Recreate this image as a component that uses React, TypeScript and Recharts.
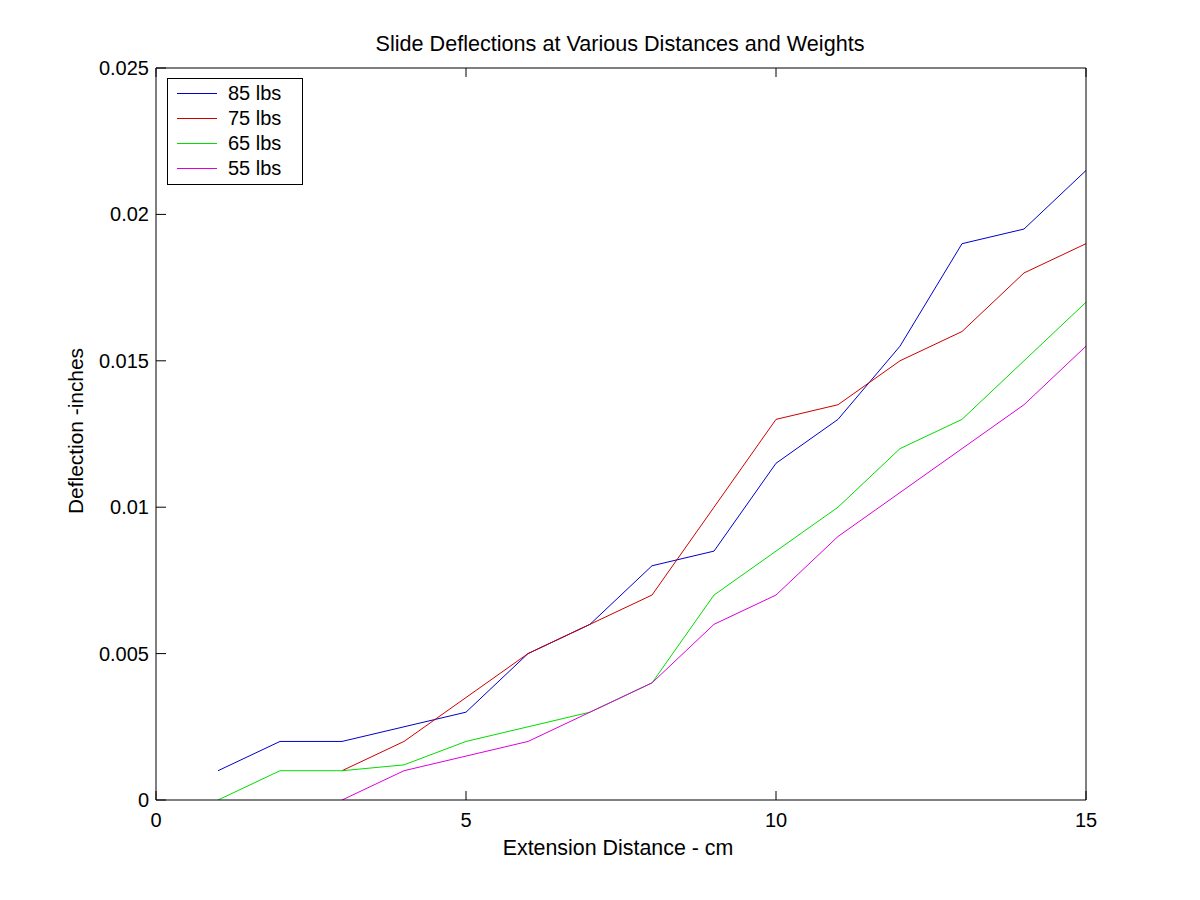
import React from 'react';
import { LineChart, Line, XAxis, YAxis, Legend } from 'recharts';

const distances = [1, 2, 3, 4, 5, 6, 7, 8, 9, 10, 11, 12, 13, 14, 15];
const lbs85 = [0.001, 0.002, 0.002, 0.0025, 0.003, 0.005, 0.006, 0.008, 0.0085, 0.0115, 0.013, 0.0155, 0.019, 0.0195, 0.0215];
const lbs75 = [null, null, 0.001, 0.002, 0.0035, 0.005, 0.006, 0.007, 0.01, 0.013, 0.0135, 0.015, 0.016, 0.018, 0.019];
const lbs65 = [0, 0.001, 0.001, 0.0012, 0.002, 0.0025, 0.003, 0.004, 0.007, 0.0085, 0.01, 0.012, 0.013, 0.015, 0.017];
const lbs55 = [null, null, 0, 0.001, 0.0015, 0.002, 0.003, 0.004, 0.006, 0.007, 0.009, 0.0105, 0.012, 0.0135, 0.0155];

const xTicks = [0, 5, 10, 15];
const yTicks = [0, 0.005, 0.01, 0.015, 0.02, 0.025];

const seriesNames = ['85 lbs', '75 lbs', '65 lbs', '55 lbs'];
const seriesKeys = ['s85', 's75', 's65', 's55'];
const seriesColors = ['#0000cc', '#cc0000', '#00dd00', '#dd00dd'];

const data = distances.map((d, i) => ({
  x: d,
  s85: lbs85[i],
  s75: lbs75[i],
  s65: lbs65[i],
  s55: lbs55[i],
}));

const FONT = '"Liberation Sans", Arial, Helvetica, sans-serif';

const BottomTick = (props: any) => {
  const { x, y, payload } = props;
  return (
    <g>
      <line x1={x} x2={x} y1={y} y2={y - 9} stroke="#000" strokeWidth={1} />
      <text x={x} y={y + 27} textAnchor="middle" fontSize={20} fontFamily={FONT} fill="#000">
        {String(payload.value)}
      </text>
    </g>
  );
};

const TopTick = (props: any) => {
  const { x, y } = props;
  return <line x1={x} x2={x} y1={y} y2={y + 9} stroke="#000" strokeWidth={1} />;
};

const LeftTick = (props: any) => {
  const { x, y, payload } = props;
  return (
    <g>
      <line x1={x} x2={x + 10} y1={y} y2={y} stroke="#000" strokeWidth={1} />
      <text x={x - 7} y={y + 7} textAnchor="end" fontSize={20} fontFamily={FONT} fill="#000">
        {String(payload.value)}
      </text>
    </g>
  );
};

const RightTick = (props: any) => {
  const { x, y } = props;
  return <line x1={x} x2={x - 10} y1={y} y2={y} stroke="#000" strokeWidth={1} />;
};

const LegendBox = () => {
  return (
    <svg width={136} height={107} style={{ display: 'block' }}>
      <rect x={0.5} y={0.5} width={135} height={106} fill="#fff" stroke="#000" strokeWidth={1} />
      {seriesNames.map((name, i) => {
        const cy = 15 + i * 25;
        return (
          <g key={name}>
            <line x1={10} x2={50} y1={cy + 0.5} y2={cy + 0.5} stroke={seriesColors[i]} strokeWidth={1} />
            <text x={61} y={cy + 7} fontSize={20} fontFamily={FONT} fill="#000">
              {name}
            </text>
          </g>
        );
      })}
    </svg>
  );
};

export default function App() {
  return (
    <div style={{ width: 1184, height: 884, background: '#fff' }}>
      <LineChart
        width={1184}
        height={884}
        data={data}
        margin={{ top: 50, right: 96, bottom: 42, left: 68 }}
      >
        <XAxis
          dataKey="x"
          type="number"
          domain={[0, 15]}
          ticks={xTicks}
          allowDataOverflow
          height={50}
          tickSize={0}
          tickMargin={0}
          tickLine={false}
          axisLine={{ stroke: '#000' }}
          tick={<BottomTick />}
          interval={0}
          label={{
            content: () => (
              <text x={610} y={847} textAnchor="middle" fontSize={21.4} fontFamily={FONT} fill="#000">
                Extension Distance - cm
              </text>
            ),
          }}
        />
        <XAxis
          xAxisId="top"
          orientation="top"
          dataKey="x"
          type="number"
          domain={[0, 15]}
          ticks={xTicks}
          height={10}
          tickSize={0}
          tickMargin={0}
          tickLine={false}
          axisLine={{ stroke: '#000' }}
          tick={<TopTick />}
          interval={0}
          label={{
            content: () => (
              <text x={612} y={43} textAnchor="middle" fontSize={21.6} fontFamily={FONT} fill="#000">
                Slide Deflections at Various Distances and Weights
              </text>
            ),
          }}
        />
        <YAxis
          type="number"
          domain={[0, 0.025]}
          ticks={yTicks}
          allowDataOverflow
          width={80}
          tickSize={0}
          tickMargin={0}
          tickLine={false}
          axisLine={{ stroke: '#000' }}
          tick={<LeftTick />}
          interval={0}
          label={{
            content: () => (
              <text
                x={75}
                y={423}
                textAnchor="middle"
                fontSize={20.9}
                fontFamily={FONT}
                fill="#000"
                transform="rotate(-90, 75, 423)"
              >
                Deflection -inches
              </text>
            ),
          }}
        />
        <YAxis
          yAxisId="right"
          orientation="right"
          type="number"
          domain={[0, 0.025]}
          ticks={yTicks}
          width={10}
          tickSize={0}
          tickMargin={0}
          tickLine={false}
          axisLine={{ stroke: '#000' }}
          tick={<RightTick />}
          interval={0}
        />
        {seriesKeys.map((k, i) => (
          <Line
            key={k}
            type="linear"
            dataKey={k}
            name={seriesNames[i]}
            stroke={seriesColors[i]}
            strokeWidth={1}
            dot={false}
            activeDot={false}
            isAnimationActive={false}
            connectNulls={false}
          />
        ))}
        <Legend
          layout="vertical"
          align="center"
          verticalAlign="middle"
          content={<LegendBox />}
          wrapperStyle={{ left: 158.5, top: 70, width: 136, height: 107, margin: 0, padding: 0 }}
        />
      </LineChart>
    </div>
  );
}
